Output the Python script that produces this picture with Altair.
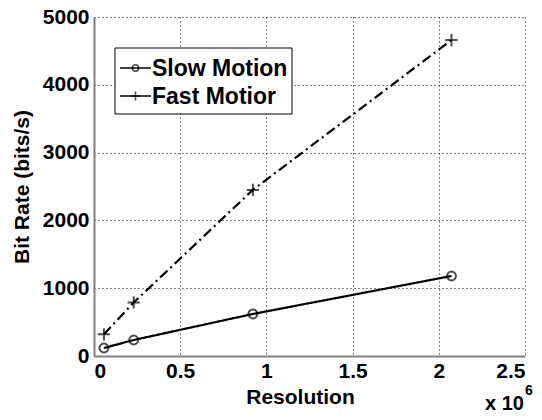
import altair as alt
import pandas as pd

# Data
resolution = [57600, 230400, 921600, 2073600]
slow_motion = [118, 236, 620, 1180]
fast_motion = [320, 790, 2450, 4660]
series_names = ["Slow Motion", "Fast Motior"]
x_ticks = [0, 500000, 1000000, 1500000, 2000000, 2500000]
y_ticks = [0, 1000, 2000, 3000, 4000, 5000]

df = pd.DataFrame({
    "res": resolution * 2,
    "rate": slow_motion + fast_motion,
    "series": [series_names[0]] * 4 + [series_names[1]] * 4,
})

FONT = "Liberation Sans"
FS = 21
W, H = 431, 339

CIRCLE = "M-1,0A1,1 0 1,1 1,0A1,1 0 1,1 -1,0Z"
PLUS = "M-1,0H1M0,-1V1"

x_enc = alt.X("res:Q", scale=alt.Scale(domain=[0, 2500000], nice=False, zero=False),
              axis=alt.Axis(values=x_ticks, labelExpr="format(datum.value/1000000, '~g')",
                            title="Resolution", titleX=206, titleY=41,
                            titleBaseline="middle", titleAnchor=None))
y_enc = alt.Y("rate:Q", scale=alt.Scale(domain=[0, 5000], nice=False),
              axis=alt.Axis(values=y_ticks, format="d", title="Bit Rate (bits/s)",
                            titleX=-72, titleY=H / 2, titleAngle=-90,
                            titleBaseline="middle", titleAlign="center"))

base = alt.Chart(df)

lines = base.mark_line(color="black", strokeWidth=2.2).encode(
    x=x_enc, y=y_enc,
    strokeDash=alt.StrokeDash("series:N",
                              scale=alt.Scale(domain=series_names, range=[[1, 0], [10, 4, 2, 4]]),
                              legend=None),
)

points = base.mark_point(color="black", strokeWidth=2, filled=False).encode(
    x="res:Q", y="rate:Q",
    shape=alt.Shape("series:N", scale=alt.Scale(domain=series_names, range=[CIRCLE, PLUS]),
                    legend=None),
    size=alt.Size("series:N", scale=alt.Scale(domain=series_names, range=[80, 150]), legend=None),
)

# Legend (drawn manually, MATLAB-like)
one = alt.Data(values=[{"a": 1}])
lx0, ly0, lx1, ly1 = 21, 31, 198, 97
legend_box = alt.Chart(one).mark_rect(fill="white", stroke="black", strokeWidth=1).encode(
    x=alt.value(lx0), x2=alt.value(lx1), y=alt.value(ly0), y2=alt.value(ly1))

legend_layers = [legend_box]
rows = [(series_names[0], 51, CIRCLE, 40), (series_names[1], 79, PLUS, 80)]
for name, yy, shp, sz in rows:
    legend_layers.append(alt.Chart(one).mark_rule(color="black", strokeWidth=1.5).encode(
        x=alt.value(26), x2=alt.value(57), y=alt.value(yy), y2=alt.value(yy)))
    legend_layers.append(alt.Chart(one).mark_point(color="black", strokeWidth=1.5, shape=shp,
                                                   size=sz, filled=False).encode(
        x=alt.value(41.5), y=alt.value(yy)))
    legend_layers.append(alt.Chart(one).mark_text(font=FONT, fontSize=23, fontWeight="bold",
                                                  align="left", baseline="middle",
                                                  color="black").encode(
        x=alt.value(58), y=alt.value(yy + 1), text=alt.value(name)))

exp_x = alt.Chart(one).mark_text(font=FONT, fontSize=20, fontWeight="bold", align="left",
                                 baseline="middle", color="black").encode(
    x=alt.value(391), y=alt.value(387), text=alt.value("x 10"))
exp_6 = alt.Chart(one).mark_text(font=FONT, fontSize=14, fontWeight="bold", align="left",
                                 baseline="middle", color="black").encode(
    x=alt.value(431), y=alt.value(374), text=alt.value("6"))

chart = alt.layer(lines, points, *legend_layers, exp_x, exp_6).properties(
    width=W, height=H,
    autosize=alt.AutoSizeParams(type="none"),
    padding={"left": 94, "top": 17, "right": 17, "bottom": 64},
).configure_view(stroke=None).configure_axis(
    labelFont=FONT, labelFontSize=FS, labelFontWeight="bold", labelColor="black",
    titleFont=FONT, titleFontSize=FS, titleFontWeight="bold", titleColor="black",
    grid=True, gridColor="black", gridDash=[1, 3], gridWidth=1, gridOpacity=1,
    domainColor="#808080", domainWidth=2, ticks=False,
).configure_axisY(labelPadding=5).configure_axisX(labelPadding=4)

chart.save("out.html", embed_options={"renderer": "svg", "actions": False})
